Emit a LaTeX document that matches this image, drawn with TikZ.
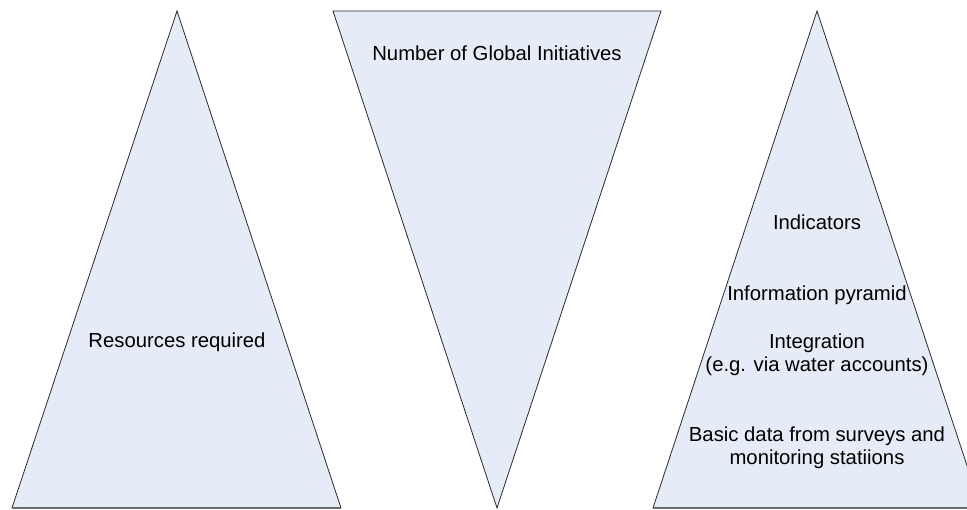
\documentclass[tikz,border=0pt]{standalone}
\usepackage{fontspec}
\setmainfont{Liberation Sans}
\usetikzlibrary{positioning}
\definecolor{triFill}{HTML}{E6ECF7}
\definecolor{triEdge}{HTML}{2A2A2A}
\definecolor{baseEdge}{HTML}{6E6E6E}
\tikzstyle{tri} = [fill=triFill, draw=triEdge, line width=0.8pt, line join=miter]
\tikzstyle{baseline} = [draw=baseEdge, line width=2pt]
\tikzstyle{label} = [text centered, align=center, inner sep=0pt, font=\fontsize{20.3}{23}\selectfont]

\begin{document}
\begin{tikzpicture}[x=1pt, y=-1pt]
    \useasboundingbox (0,0) rectangle (967,510);

    %Corners
    \coordinate (resTop) at (177,11);
    \coordinate (resLeft) at (12,508);
    \coordinate (resRight) at (341,508);
    \coordinate (globLeft) at (333,11);
    \coordinate (globRight) at (661,11);
    \coordinate (globBot) at (497,508);
    \coordinate (infoTop) at (817,11);
    \coordinate (infoLeft) at (653,508);
    \coordinate (infoRight) at (981,508);

    %Triangles
    \draw [tri] (resTop) -- (resRight) -- (resLeft) -- cycle;
    \draw [baseline] (resLeft) -- (resRight);
    \draw [tri] (globLeft) -- (globRight) -- (globBot) -- cycle;
    \draw [tri] (infoTop) -- (infoRight) -- (infoLeft) -- cycle;
    \draw [baseline] (infoLeft) -- (infoRight);

    %Labels
    \node (res) [label] at (177,342) {Resources required};
    \node (glob) [label] at (497,53) {Number of Global Initiatives};
    \node (ind) [label] at (817,222) {Indicators};
    \node (pyr) [label] at (817,295) {Information pyramid};
    \node (integ) [label] at (817,355) {Integration\\(e.g. via water accounts)};
    \node (basic) [label] at (817,448) {Basic data from surveys and\\monitoring statiions};

\end{tikzpicture}
\end{document}
